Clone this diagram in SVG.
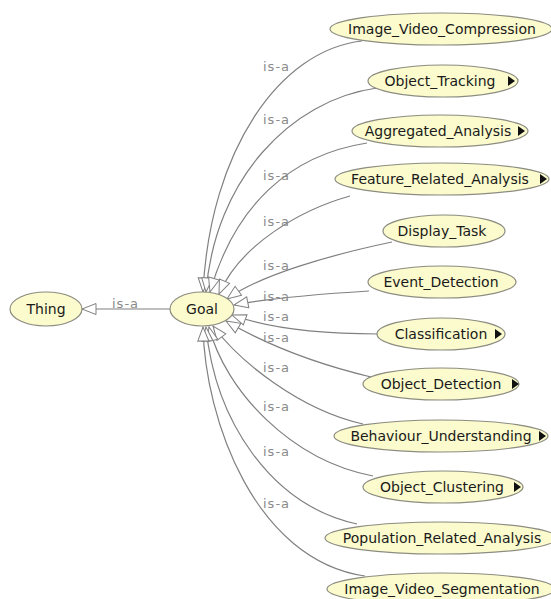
<svg xmlns="http://www.w3.org/2000/svg" width="551" height="599" viewBox="0 0 551 599">
<style>
  .node ellipse { fill: #fbfbcd; stroke: #8c8c80; stroke-width: 1.2; }
  .node text { font-family: "DejaVu Sans", sans-serif; font-size: 14px; fill: #1a1a1a; text-anchor: middle; }
  .node polygon { fill: #111; }
  .edge { fill: none; stroke: #808080; stroke-width: 1.2; marker-end: url(#hollow); }
  .lbl { font-family: "DejaVu Sans", sans-serif; font-size: 13px; fill: #8a8a8a; letter-spacing: 1px; }
</style>
<defs>
  <marker id="hollow" viewBox="-1 -1 16 13" markerWidth="16" markerHeight="13" refX="14" refY="5.5" orient="auto" markerUnits="userSpaceOnUse">
    <path d="M0,0 L14,5.5 L0,11 Z" fill="#ffffff" stroke="#808080" stroke-width="1"/>
  </marker>
</defs>
<rect width="551" height="599" fill="#ffffff"/>

<g id="connectors">
  <path class="edge" d="M170,309 L82,309"/>
  <path class="edge" d="M362,41 C280,50 210,150 203,292"/>
  <path class="edge" d="M377,88 C290,100 215,180 206,292"/>
  <path class="edge" d="M367,143 C290,155 235,205 210,292"/>
  <path class="edge" d="M350,196 C300,210 240,245 219,294"/>
  <path class="edge" d="M392,242 C330,255 260,275 227,299"/>
  <path class="edge" d="M369,291 C320,294 270,298 234,305"/>
  <path class="edge" d="M378,334 C310,334 262,326 232,315"/>
  <path class="edge" d="M371,377 C300,360 255,338 226,321"/>
  <path class="edge" d="M363,424 C300,410 240,362 213,326"/>
  <path class="edge" d="M373,476 C290,460 225,390 209,327"/>
  <path class="edge" d="M357,524 C270,505 215,420 206,327"/>
  <path class="edge" d="M365,576 C255,560 205,420 203,327"/>
  <text class="lbl" x="112" y="308">is-a</text>
  <text class="lbl" x="263" y="71">is-a</text>
  <text class="lbl" x="263" y="124">is-a</text>
  <text class="lbl" x="263" y="180">is-a</text>
  <text class="lbl" x="263" y="226">is-a</text>
  <text class="lbl" x="263" y="270">is-a</text>
  <text class="lbl" x="263" y="301">is-a</text>
  <text class="lbl" x="263" y="321">is-a</text>
  <text class="lbl" x="263" y="342">is-a</text>
  <text class="lbl" x="263" y="372">is-a</text>
  <text class="lbl" x="263" y="411">is-a</text>
  <text class="lbl" x="263" y="456">is-a</text>
  <text class="lbl" x="263" y="508">is-a</text>
</g>

<g id="node-thing" class="node">
  <ellipse cx="46" cy="309" rx="36" ry="17"/>
  <text x="46" y="314">Thing</text>
</g>
<g id="node-goal" class="node">
  <ellipse cx="202" cy="309" rx="32" ry="17"/>
  <text x="202" y="314">Goal</text>
</g>
<g id="node-image-video-compression" class="node">
  <ellipse cx="441" cy="29" rx="111" ry="16"/>
  <text x="442" y="34">Image_Video_Compression</text>
</g>
<g id="node-object-tracking" class="node">
  <ellipse cx="443" cy="81" rx="75" ry="16"/>
  <text x="440" y="86">Object_Tracking</text>
  <polygon points="508,76 515,81 508,86"/>
</g>
<g id="node-aggregated-analysis" class="node">
  <ellipse cx="440" cy="131" rx="88" ry="16"/>
  <text x="438" y="136">Aggregated_Analysis</text>
  <polygon points="518,126 525,131 518,136"/>
</g>
<g id="node-feature-related-analysis" class="node">
  <ellipse cx="442" cy="179" rx="107" ry="16"/>
  <text x="440" y="184">Feature_Related_Analysis</text>
  <polygon points="540,174 547,179 540,184"/>
</g>
<g id="node-display-task" class="node">
  <ellipse cx="444" cy="231" rx="61" ry="16"/>
  <text x="442" y="236">Display_Task</text>
</g>
<g id="node-event-detection" class="node">
  <ellipse cx="442" cy="282" rx="74" ry="16"/>
  <text x="441" y="287">Event_Detection</text>
</g>
<g id="node-classification" class="node">
  <ellipse cx="441" cy="334" rx="64" ry="16"/>
  <text x="441" y="339">Classification</text>
  <polygon points="495,329 502,334 495,339"/>
</g>
<g id="node-object-detection" class="node">
  <ellipse cx="441" cy="384" rx="78" ry="16"/>
  <text x="441" y="389">Object_Detection</text>
  <polygon points="512,379 519,384 512,389"/>
</g>
<g id="node-behaviour-understanding" class="node">
  <ellipse cx="441" cy="436" rx="107" ry="16"/>
  <text x="441" y="441">Behaviour_Understanding</text>
  <polygon points="539,431 546,436 539,441"/>
</g>
<g id="node-object-clustering" class="node">
  <ellipse cx="443" cy="487" rx="80" ry="16"/>
  <text x="442" y="492">Object_Clustering</text>
  <polygon points="514,482 521,487 514,492"/>
</g>
<g id="node-population-related-analysis" class="node">
  <ellipse cx="441" cy="538" rx="116" ry="16"/>
  <text x="442" y="543">Population_Related_Analysis</text>
</g>
<g id="node-image-video-segmentation" class="node">
  <ellipse cx="441" cy="589" rx="114" ry="16"/>
  <text x="442" y="594">Image_Video_Segmentation</text>
</g>
</svg>
